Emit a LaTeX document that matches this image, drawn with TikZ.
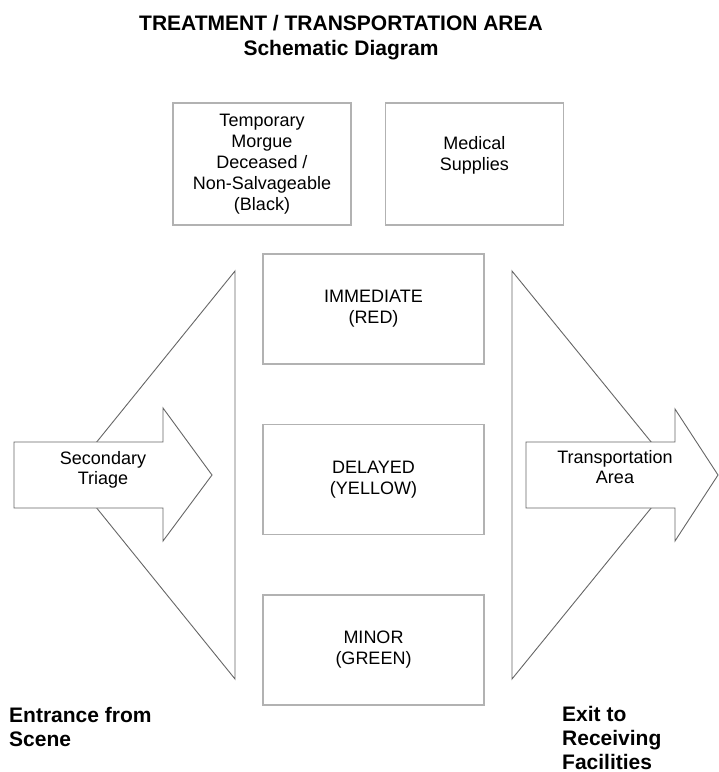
\documentclass[tikz,border=0pt]{standalone}
\usepackage{fontspec}
\setmainfont{Liberation Sans}
\usetikzlibrary{positioning}

\begin{document}
\begin{tikzpicture}[x=1pt,y=-1pt,
  node distance=59pt and 33pt,
  box/.style={draw=black!30,line width=1.4pt,align=center,inner sep=0pt,
    font=\fontsize{18}{21}\selectfont},
  topbox/.style={box,minimum width=178pt,minimum height=122pt},
  midbox/.style={box,minimum width=221pt,minimum height=110pt},
  area/.style={draw=black!60,line width=0.9pt,fill=white,line join=miter},
  txt/.style={align=center,inner sep=0pt,font=\fontsize{18}{20}\selectfont},
  heading/.style={align=center,inner sep=0pt,font=\fontsize{21}{25}\selectfont\bfseries},
  side/.style={align=left,inner sep=0pt,anchor=north west,
    font=\fontsize{21}{24}\selectfont\bfseries}
]
\useasboundingbox (0,0) rectangle (719,772);

% title
\node[heading] (title) at (341,37.5) {TREATMENT / TRANSPORTATION AREA\\Schematic Diagram};

% support areas
\node[topbox] (morgue) at (262,164) {Temporary\\Morgue\\Deceased /\\Non-Salvageable\\(Black)};
\node[topbox,right=of morgue] (supplies) {Medical\\Supplies\\~};

% triage categories
\node[midbox] (immediate) at (373.5,309) {IMMEDIATE\\(RED)};
\node[midbox,below=of immediate] (delayed) {DELAYED\\(YELLOW)};
\node[midbox,below=of delayed] (minor) {MINOR\\(GREEN)};

% entrance and exit funnels
\draw[area] (235,271) -- (70,475) -- (235,679) -- cycle;
\draw[area] (512,271) -- (678,475) -- (512,679) -- cycle;
\draw[area] (14,442) -- (163,442) -- (163,408) -- (212,475) -- (163,541) -- (163,508) -- (14,508) -- cycle;
\draw[area] (526,442) -- (675,442) -- (675,409) -- (718,475) -- (675,541) -- (675,508) -- (526,508) -- cycle;
\node[txt] (secondary) at (103,470) {Secondary\\Triage};
\node[txt] (transport) at (615,467.5) {Transportation\\Area};

% side labels
\node[side] (entrance) at (9,707) {Entrance from\\Scene};
\node[side] (exit) at (562,706.5) {Exit to\\Receiving\\Facilities};
\end{tikzpicture}
\end{document}
